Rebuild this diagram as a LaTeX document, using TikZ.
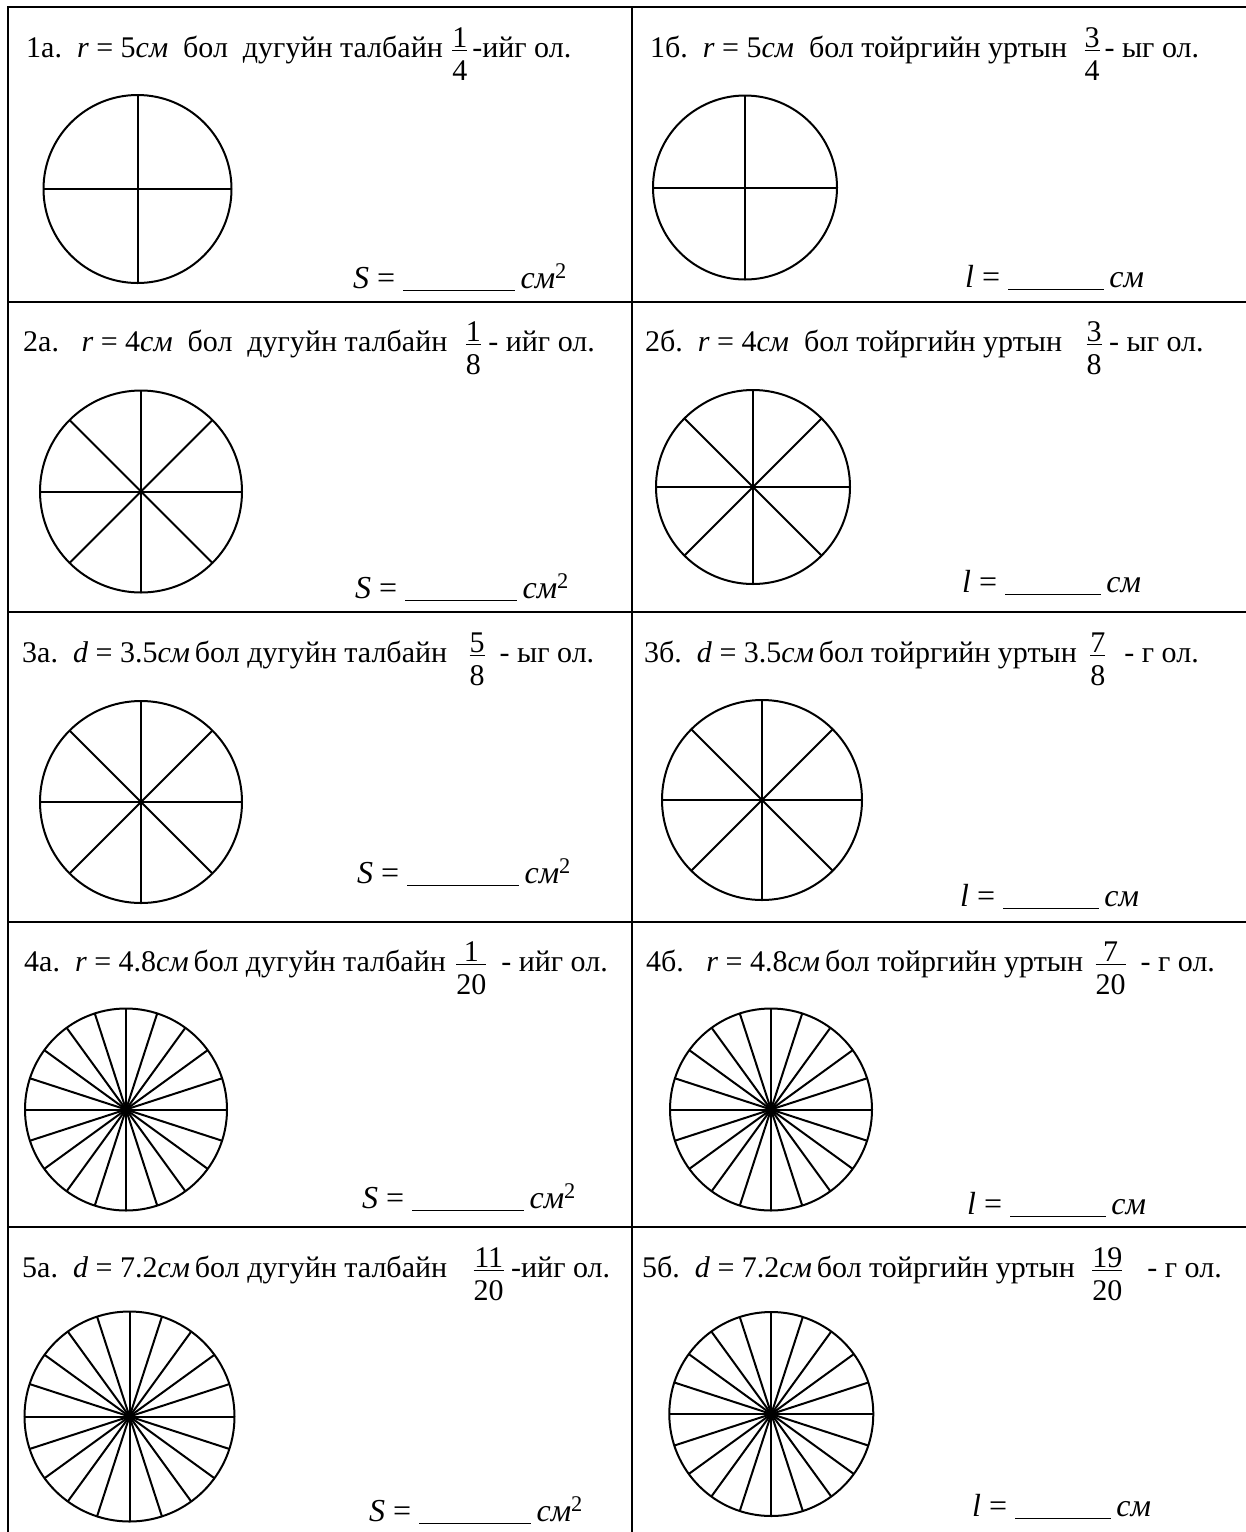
\documentclass[tikz,border=0pt]{standalone}
\usepackage{fontspec}
\setmainfont{Liberation Serif}
\usetikzlibrary{positioning}

\newlength\frw
\newcommand\frc[2]{\settowidth\frw{#2}%
\rlap{\makebox[\frw]{\raisebox{10pt}{#1}}}%
\rlap{\rule[6pt]{\frw}{1.5pt}}%
\raisebox{-23pt}{#2}}
\newcommand\va[1]{\textit{#1}}
\newcommand\blankS{\rule[-3pt]{112pt}{1.5pt}}
\newcommand\blankL{\rule[-3pt]{96pt}{1.5pt}}

\tikzset{
txt/.style={font=\fontsize{30}{36}\selectfont, inner sep=0pt, anchor=base west},
ans/.style={font=\fontsize{32}{38}\selectfont, inner sep=0pt, anchor=base west},
grid/.style={line width=2.6pt},
wheel/.style={line width=2pt}
}

\begin{document}
\begin{tikzpicture}[x=1pt,y=-1pt]
\useasboundingbox (0,0) rectangle (1246,1532);
% table
\draw[grid](8,1545)--(8,7)--(1260,7);
\draw[grid](632,7)--(632,1545);
\foreach \yy in {302,612,922,1227}
\draw[grid](8,\yy)--(1260,\yy);

% headers
\node[txt](h1a) at (26,57){1а.\ \ \va{r} = 5\va{см}\ \ бол\ \ дугуйн талбайн \hspace{2pt}\frc{1}{4}\,-ийг ол.};
\node[txt](h1b) at (650,57){1б.\ \ \va{r} = 5\va{см}\ \ бол тойргийн уртын \hspace{10pt}\frc{3}{4}\hspace{5pt}- ыг ол.};
\node[txt](h2a) at (23,351){2а.\ \ \ \va{r} = 4\va{см}\ \ бол\ \ дугуйн талбайн \hspace{11pt}\frc{1}{8}\ - ийг ол.};
\node[txt](h2b) at (645,351){2б.\ \ \va{r} = 4\va{см}\ \ бол тойргийн уртын \hspace{17pt}\frc{3}{8}\ - ыг ол.};
\node[txt](h3a) at (22,662){3а.\ \ \va{d} = 3.5\va{см}\,бол дугуйн талбайн \hspace{15pt}\frc{5}{8}\ \ - ыг ол.};
\node[txt](h3b) at (644,662){3б.\ \ \va{d} = 3.5\va{см}\,бол тойргийн уртын \hspace{6pt}\frc{7}{8}\hspace{4pt}\ \ - г ол.};
\node[txt](h4a) at (24,971){4а.\ \ \va{r} = 4.8\va{см}\,бол дугуйн талбайн \hspace{3pt}\frc{1}{20}\ \ - ийг ол.};
\node[txt](h4b) at (646,971){4б.\ \ \ \va{r} = 4.8\va{см}\,бол тойргийн уртын \hspace{5pt}\frc{7}{20}\ \ - г ол.};
\node[txt](h5a) at (22,1277){5а.\ \ \va{d} = 7.2\va{см}\,бол дугуйн талбайн \hspace{19pt}\frc{11}{20}\ -ийг ол.};
\node[txt](h5b) at (642,1277){5б.\ \ \va{d} = 7.2\va{см}\,бол тойргийн уртын \hspace{10pt}\frc{19}{20}\hspace{10pt}\ \ - г ол.};

% divided circles
\foreach \cx/\cy/\rad/\n in {137.5/189/94/2, 745/187.5/92/2,
141/491.5/101/4, 753/487/97/4,
141/802/101/4, 762/800/100/4,
126/1109.5/101/10, 771/1109.5/101/10,
129.5/1416.5/105/10, 771.3/1414/102/10}{
\draw[wheel](\cx,\cy)circle[radius=\rad];
\foreach \k in {1,...,\n}
\draw[wheel](\cx,\cy)++(\k*180/\n:\rad)--++(\k*180/\n+180:2*\rad);
}

% answers
\node[ans](s1a) at (353,288){\va{S} = \blankS\,\va{см}\textsuperscript{2}};
\node[ans](l1b) at (965,287){\va{l} = \blankL\,\va{см}};
\node[ans](s2a) at (355,598){\va{S} = \blankS\,\va{см}\textsuperscript{2}};
\node[ans](l2b) at (962,592){\va{l} = \blankL\,\va{см}};
\node[ans](s3a) at (357,883){\va{S} = \blankS\,\va{см}\textsuperscript{2}};
\node[ans](l3b) at (960,906){\va{l} = \blankL\,\va{см}};
\node[ans](s4a) at (362,1208){\va{S} = \blankS\,\va{см}\textsuperscript{2}};
\node[ans](l4b) at (967,1214){\va{l} = \blankL\,\va{см}};
\node[ans](s5a) at (369,1521){\va{S} = \blankS\,\va{см}\textsuperscript{2}};
\node[ans](l5b) at (972,1516){\va{l} = \blankL\,\va{см}};
\end{tikzpicture}
\end{document}
